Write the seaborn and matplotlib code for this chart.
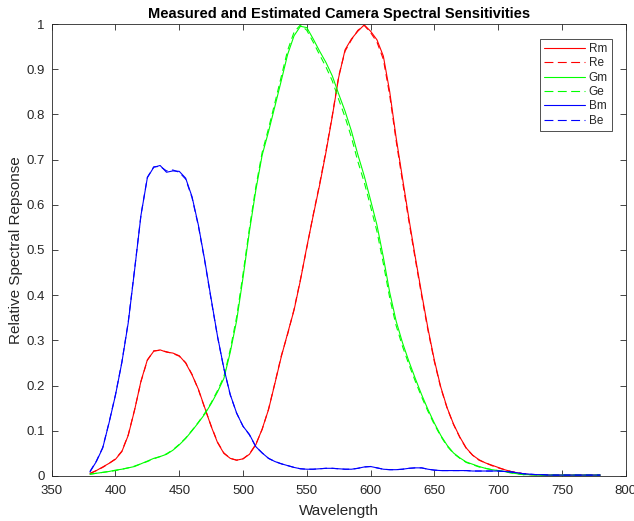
import numpy as np
import pandas as pd
import matplotlib
matplotlib.use("Agg")
import matplotlib.pyplot as plt
import seaborn as sns
from matplotlib.lines import Line2D

wavelength = list(range(380, 781, 5))

Rm = [0.005, 0.012, 0.020, 0.028, 0.037, 0.054, 0.090, 0.146, 0.210, 0.257,
      0.276, 0.279, 0.274, 0.272, 0.266, 0.250, 0.224, 0.192, 0.151, 0.110,
      0.074, 0.050, 0.039, 0.035, 0.038, 0.048, 0.069, 0.104, 0.147, 0.205,
      0.264, 0.316, 0.367, 0.433, 0.507, 0.576, 0.643, 0.716, 0.796, 0.882,
      0.943, 0.967, 0.984, 0.998, 0.984, 0.965, 0.929, 0.850, 0.749, 0.659,
      0.570, 0.485, 0.404, 0.326, 0.256, 0.197, 0.151, 0.115, 0.086, 0.062,
      0.046, 0.036, 0.029, 0.024, 0.019, 0.014, 0.010, 0.007, 0.005, 0.003,
      0.003, 0.002, 0.002, 0.002, 0.002, 0.002, 0.002, 0.002, 0.002, 0.002,
      0.002]
Re = [0.006, 0.012, 0.019, 0.028, 0.038, 0.055, 0.091, 0.147, 0.209, 0.256,
      0.277, 0.278, 0.275, 0.271, 0.265, 0.251, 0.225, 0.191, 0.150, 0.111,
      0.075, 0.051, 0.039, 0.035, 0.038, 0.049, 0.070, 0.103, 0.148, 0.206,
      0.266, 0.314, 0.369, 0.435, 0.505, 0.578, 0.646, 0.719, 0.798, 0.885,
      0.940, 0.965, 0.986, 0.997, 0.981, 0.960, 0.922, 0.842, 0.742, 0.652,
      0.564, 0.480, 0.399, 0.322, 0.253, 0.195, 0.150, 0.114, 0.085, 0.061,
      0.046, 0.035, 0.029, 0.023, 0.018, 0.014, 0.010, 0.007, 0.005, 0.003,
      0.003, 0.002, 0.002, 0.002, 0.002, 0.002, 0.002, 0.002, 0.002, 0.002,
      0.002]
Gm = [0.004, 0.006, 0.008, 0.010, 0.013, 0.015, 0.018, 0.021, 0.027, 0.033,
      0.039, 0.043, 0.048, 0.057, 0.069, 0.083, 0.100, 0.118, 0.137, 0.160,
      0.186, 0.216, 0.274, 0.344, 0.439, 0.541, 0.632, 0.710, 0.762, 0.818,
      0.875, 0.933, 0.974, 0.995, 0.992, 0.967, 0.940, 0.915, 0.885, 0.845,
      0.807, 0.763, 0.711, 0.664, 0.610, 0.555, 0.484, 0.406, 0.343, 0.295,
      0.254, 0.216, 0.180, 0.147, 0.117, 0.090, 0.068, 0.051, 0.040, 0.031,
      0.026, 0.021, 0.017, 0.014, 0.012, 0.010, 0.007, 0.005, 0.003, 0.003,
      0.002, 0.002, 0.002, 0.002, 0.002, 0.002, 0.002, 0.002, 0.002, 0.002,
      0.002]
Ge = [0.004, 0.006, 0.008, 0.010, 0.012, 0.015, 0.018, 0.022, 0.027, 0.032,
      0.038, 0.043, 0.049, 0.058, 0.070, 0.084, 0.101, 0.119, 0.139, 0.162,
      0.189, 0.220, 0.280, 0.352, 0.447, 0.548, 0.639, 0.716, 0.769, 0.826,
      0.884, 0.942, 0.982, 0.998, 0.986, 0.960, 0.932, 0.905, 0.874, 0.833,
      0.794, 0.749, 0.696, 0.650, 0.596, 0.541, 0.470, 0.394, 0.333, 0.287,
      0.247, 0.210, 0.175, 0.143, 0.114, 0.088, 0.066, 0.050, 0.039, 0.030,
      0.025, 0.020, 0.017, 0.014, 0.012, 0.009, 0.007, 0.005, 0.003, 0.003,
      0.002, 0.002, 0.002, 0.002, 0.002, 0.002, 0.002, 0.002, 0.002, 0.002,
      0.002]
Bm = [0.009, 0.032, 0.062, 0.118, 0.179, 0.251, 0.339, 0.456, 0.577, 0.660,
      0.683, 0.687, 0.672, 0.675, 0.674, 0.659, 0.618, 0.555, 0.477, 0.392,
      0.309, 0.238, 0.180, 0.139, 0.110, 0.092, 0.065, 0.051, 0.039, 0.032,
      0.027, 0.023, 0.019, 0.016, 0.015, 0.015, 0.016, 0.017, 0.017, 0.016,
      0.015, 0.015, 0.017, 0.020, 0.021, 0.018, 0.015, 0.014, 0.014, 0.015,
      0.017, 0.018, 0.018, 0.015, 0.013, 0.012, 0.012, 0.012, 0.012, 0.012,
      0.011, 0.011, 0.011, 0.011, 0.011, 0.010, 0.009, 0.007, 0.005, 0.004,
      0.003, 0.003, 0.002, 0.002, 0.002, 0.002, 0.002, 0.002, 0.002, 0.002,
      0.002]
Be = [0.010, 0.033, 0.063, 0.119, 0.180, 0.252, 0.341, 0.458, 0.578, 0.661,
      0.684, 0.685, 0.675, 0.677, 0.672, 0.657, 0.616, 0.553, 0.475, 0.390,
      0.308, 0.237, 0.179, 0.139, 0.110, 0.091, 0.065, 0.051, 0.039, 0.032,
      0.027, 0.023, 0.019, 0.016, 0.015, 0.015, 0.016, 0.017, 0.017, 0.016,
      0.015, 0.015, 0.017, 0.020, 0.021, 0.018, 0.015, 0.014, 0.014, 0.015,
      0.017, 0.018, 0.018, 0.015, 0.013, 0.012, 0.012, 0.012, 0.012, 0.012,
      0.011, 0.011, 0.011, 0.011, 0.011, 0.010, 0.009, 0.007, 0.005, 0.004,
      0.003, 0.003, 0.002, 0.002, 0.002, 0.002, 0.002, 0.002, 0.002, 0.002,
      0.002]

series_names = ["Rm", "Re", "Gm", "Ge", "Bm", "Be"]
series_values = [Rm, Re, Gm, Ge, Bm, Be]
xticks = [350, 400, 450, 500, 550, 600, 650, 700, 750, 800]
yticks = [0, 0.1, 0.2, 0.3, 0.4, 0.5, 0.6, 0.7, 0.8, 0.9, 1]
ytick_labels = ["0", "0.1", "0.2", "0.3", "0.4", "0.5", "0.6", "0.7", "0.8", "0.9", "1"]

colors = {"Rm": "#ff0000", "Re": "#ff0000", "Gm": "#00ff00", "Ge": "#00ff00",
          "Bm": "#0000ff", "Be": "#0000ff"}
dash_pat = (6, 4)
dashes = {"Rm": "", "Re": dash_pat, "Gm": "", "Ge": dash_pat, "Bm": "", "Be": dash_pat}

df = pd.concat([pd.DataFrame({"Wavelength": wavelength, "value": v, "series": n})
                for n, v in zip(series_names, series_values)], ignore_index=True)

sns.set_theme(style="white")
plt.rcParams["font.family"] = ["Liberation Sans", "DejaVu Sans"]

fig = plt.figure(figsize=(6.34, 5.21), dpi=100)
ax = fig.add_axes([51.7/634, 45/521, 574/634, 452/521])

sns.lineplot(data=df, x="Wavelength", y="value", hue="series", style="series",
             palette=colors, dashes=dashes, linewidth=0.8, ax=ax, legend=False,
             sort=False, estimator=None)

ax.set_xlim(350, 800)
ax.set_ylim(0, 1)
ax.set_xticks(xticks)
ax.set_yticks(yticks)
ax.set_yticklabels(ytick_labels)
ax.tick_params(direction="in", length=4.3, width=0.6, colors="#262626",
               labelsize=9.5, top=True, right=True, bottom=True, left=True)
ax.tick_params(axis="x", pad=6.5)
ax.tick_params(axis="y", pad=5)
for sp in ax.spines.values():
    sp.set_visible(True)
    sp.set_color("#262626")
    sp.set_linewidth(0.6)

ax.set_xlabel("Wavelength", fontsize=11, color="#262626", labelpad=5)
ax.set_ylabel("Relative Spectral Repsonse", fontsize=11, color="#262626", labelpad=2)
ax.set_title("Measured and Estimated Camera Spectral Sensitivities",
             fontsize=10.5, fontweight="bold", color="black", pad=4)

handles = [Line2D([0], [0], color=colors[n], lw=0.8,
                  linestyle="-" if dashes[n] == "" else (0, (8, 4)))
           for n in series_names]
leg = ax.legend(handles, series_names, loc="upper right", fontsize=8.5,
                handlelength=3.4, handletextpad=0.35, labelspacing=0.2,
                borderaxespad=0.0, bbox_to_anchor=(0.976, 0.967),
                frameon=True, fancybox=False, borderpad=0.35)
leg.get_frame().set_edgecolor("black")
leg.get_frame().set_linewidth(0.6)

fig.savefig("out.png", dpi=100)
